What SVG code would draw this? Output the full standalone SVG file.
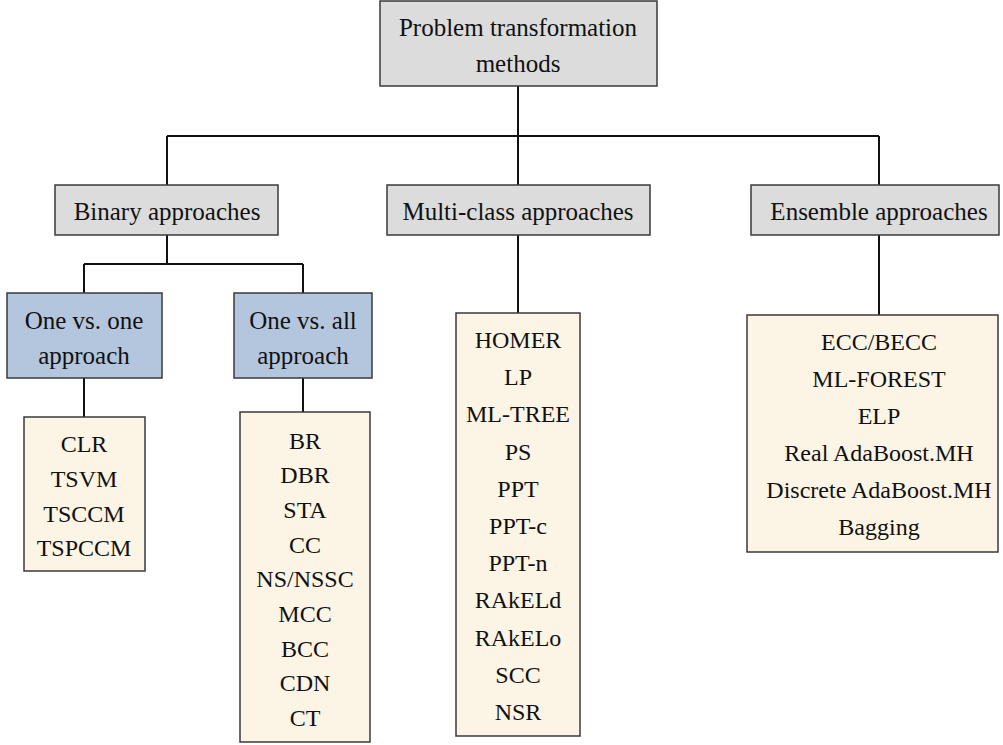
<svg xmlns="http://www.w3.org/2000/svg" width="1003" height="745" viewBox="0 0 1003 745">
<style>
text{font-family:'Liberation Serif',Tinos,'DejaVu Serif',serif;font-size:25px;fill:#111;text-anchor:middle}
.g{fill:#dcdcdc;stroke:#3a3a3a;stroke-width:1.5}
.b{fill:#b4c6dd;stroke:#3a3a3a;stroke-width:1.5}
.c{fill:#fcf4e5;stroke:#3a3a3a;stroke-width:1.5}
.l{fill:none;stroke:#111;stroke-width:2}
text.s{font-size:24px}
</style>
<rect width="1003" height="745" fill="#fff"/>
<g id="connectors">
<path class="l" d="M518 86V136M167 136H879M167 136V185M518 136V185M879 136V185"/>
<path class="l" d="M167 235V264M84 264H303M84 264V293M303 264V293"/>
<path class="l" d="M84 378V417M303 378V412M518 235V313M879 235V315"/>
</g>
<g id="root">
<rect class="g" x="380" y="1" width="277" height="85"/>
<text x="518" y="36">Problem transformation</text>
<text x="518" y="72">methods</text>
</g>
<g id="binary">
<rect class="g" x="55" y="185" width="223" height="50"/>
<text x="167" y="220">Binary approaches</text>
</g>
<g id="multiclass">
<rect class="g" x="387" y="185" width="263" height="50"/>
<text x="518" y="220">Multi-class approaches</text>
</g>
<g id="ensemble">
<rect class="g" x="751" y="185" width="248" height="50"/>
<text x="879" y="220">Ensemble approaches</text>
</g>
<g id="ovo">
<rect class="b" x="7" y="293" width="155" height="85"/>
<text x="84" y="329">One vs. one</text>
<text x="84" y="364">approach</text>
</g>
<g id="ova">
<rect class="b" x="234" y="293" width="138" height="85"/>
<text x="303" y="329">One vs. all</text>
<text x="303" y="364">approach</text>
</g>
<g id="ovo-list">
<rect class="c" x="24" y="417" width="121" height="154"/>
<text class="s" x="84" y="452">CLR</text>
<text class="s" x="84" y="487">TSVM</text>
<text class="s" x="84" y="522">TSCCM</text>
<text class="s" x="84" y="556">TSPCCM</text>
</g>
<g id="ova-list">
<rect class="c" x="240" y="412" width="130" height="330"/>
<text class="s" x="305" y="449">BR</text>
<text class="s" x="305" y="483">DBR</text>
<text class="s" x="305" y="518">STA</text>
<text class="s" x="305" y="553">CC</text>
<text class="s" x="305" y="587">NS/NSSC</text>
<text class="s" x="305" y="622">MCC</text>
<text class="s" x="305" y="657">BCC</text>
<text class="s" x="305" y="691">CDN</text>
<text class="s" x="305" y="726">CT</text>
</g>
<g id="multiclass-list">
<rect class="c" x="456" y="313" width="124" height="423"/>
<text class="s" x="518" y="348">HOMER</text>
<text class="s" x="518" y="385">LP</text>
<text class="s" x="518" y="422">ML-TREE</text>
<text class="s" x="518" y="460">PS</text>
<text class="s" x="518" y="497">PPT</text>
<text class="s" x="518" y="534">PPT-c</text>
<text class="s" x="518" y="571">PPT-n</text>
<text class="s" x="518" y="608">RAkELd</text>
<text class="s" x="518" y="646">RAkELo</text>
<text class="s" x="518" y="683">SCC</text>
<text class="s" x="518" y="720">NSR</text>
</g>
<g id="ensemble-list">
<rect class="c" x="747" y="315" width="251" height="237"/>
<text class="s" x="879" y="350">ECC/BECC</text>
<text class="s" x="879" y="387">ML-FOREST</text>
<text class="s" x="879" y="424">ELP</text>
<text class="s" x="879" y="461">Real AdaBoost.MH</text>
<text class="s" x="879" y="498">Discrete AdaBoost.MH</text>
<text class="s" x="879" y="535">Bagging</text>
</g>
</svg>
